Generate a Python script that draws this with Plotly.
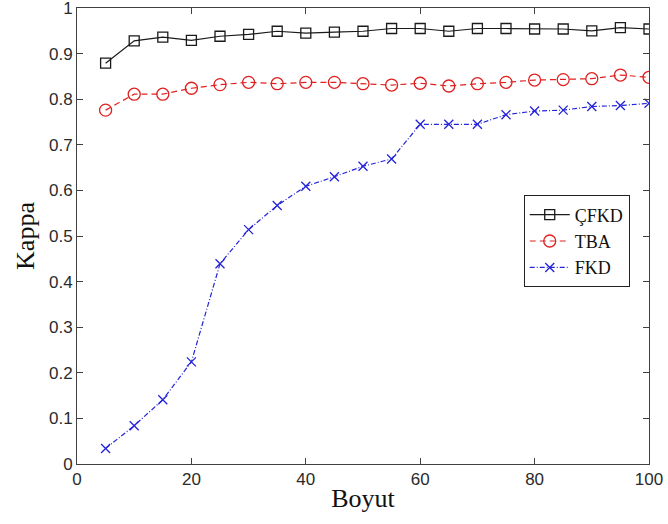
import plotly.graph_objects as go

# Feature dimension (x) and kappa scores per method
boyut = [5, 10, 15, 20, 25, 30, 35, 40, 45, 50, 55, 60, 65, 70, 75, 80, 85, 90, 95, 100]
cfkd = [0.879, 0.928, 0.936, 0.929, 0.938, 0.942, 0.949, 0.945, 0.947, 0.949,
        0.955, 0.955, 0.949, 0.955, 0.955, 0.954, 0.954, 0.950, 0.957, 0.954]
tba = [0.776, 0.811, 0.811, 0.824, 0.832, 0.837, 0.834, 0.837, 0.837, 0.834,
       0.831, 0.835, 0.829, 0.834, 0.837, 0.842, 0.843, 0.845, 0.853, 0.848]
fkd = [0.034, 0.084, 0.141, 0.224, 0.439, 0.514, 0.567, 0.609, 0.630, 0.653,
       0.669, 0.745, 0.745, 0.745, 0.766, 0.774, 0.776, 0.784, 0.786, 0.791]

x_ticks = [0, 20, 40, 60, 80, 100]
y_ticks = [0, 0.1, 0.2, 0.3, 0.4, 0.5, 0.6, 0.7, 0.8, 0.9, 1]
y_labels = ["0", "0.1", "0.2", "0.3", "0.4", "0.5", "0.6", "0.7", "0.8", "0.9", "1"]

fig = go.Figure()
fig.add_trace(go.Scatter(
    x=boyut, y=cfkd, name="ÇFKD", mode="lines+markers",
    line=dict(color="#1a1a1a", width=1.2, dash="solid"),
    marker=dict(symbol="square-open", size=10, color="#1a1a1a", line=dict(width=1.3)),
))
fig.add_trace(go.Scatter(
    x=boyut, y=tba, name="TBA", mode="lines+markers",
    line=dict(color="#e02020", width=1.2, dash="6px,4px"),
    marker=dict(symbol="circle-open", size=12, color="#e02020", line=dict(width=1.3)),
))
fig.add_trace(go.Scatter(
    x=boyut, y=fkd, name="FKD", mode="lines+markers",
    line=dict(color="#2424d8", width=1.2, dash="5px,2px,1px,2px"),
    marker=dict(symbol="x-thin-open", size=9, color="#2424d8", line=dict(width=1.3, color="#2424d8")),
))

axis_common = dict(
    showgrid=False, zeroline=False, showline=True, mirror="ticks",
    linecolor="#404040", linewidth=1, ticks="inside", ticklen=6,
    tickcolor="#404040", tickwidth=1, automargin=False,
    ticklabeloverflow="allow",
    tickfont=dict(family="Liberation Sans, Arial", size=17, color="#2a2a2a"),
)

title_font = dict(family="Liberation Serif, Times New Roman", size=26, color="#111")

fig.update_layout(
    width=668, height=524,
    margin=dict(l=77, r=19, t=8, b=60),
    paper_bgcolor="white", plot_bgcolor="white",
    xaxis=dict(range=[0, 100], tickvals=x_ticks, **axis_common,
               title=dict(text="Boyut", standoff=0, font=title_font)),
    yaxis=dict(range=[0, 1], tickvals=y_ticks, ticktext=y_labels, **axis_common,
               title=dict(text="Kappa", standoff=6, font=title_font)),
    legend=dict(
        x=0.781, y=0.589, xanchor="left", yanchor="top",
        bordercolor="#222", borderwidth=1, bgcolor="white",
        font=dict(family="Liberation Serif, Times New Roman", size=18, color="#111"),
        tracegroupgap=0, itemwidth=40,
    ),
    showlegend=True,
)

fig.write_html("out.html")
